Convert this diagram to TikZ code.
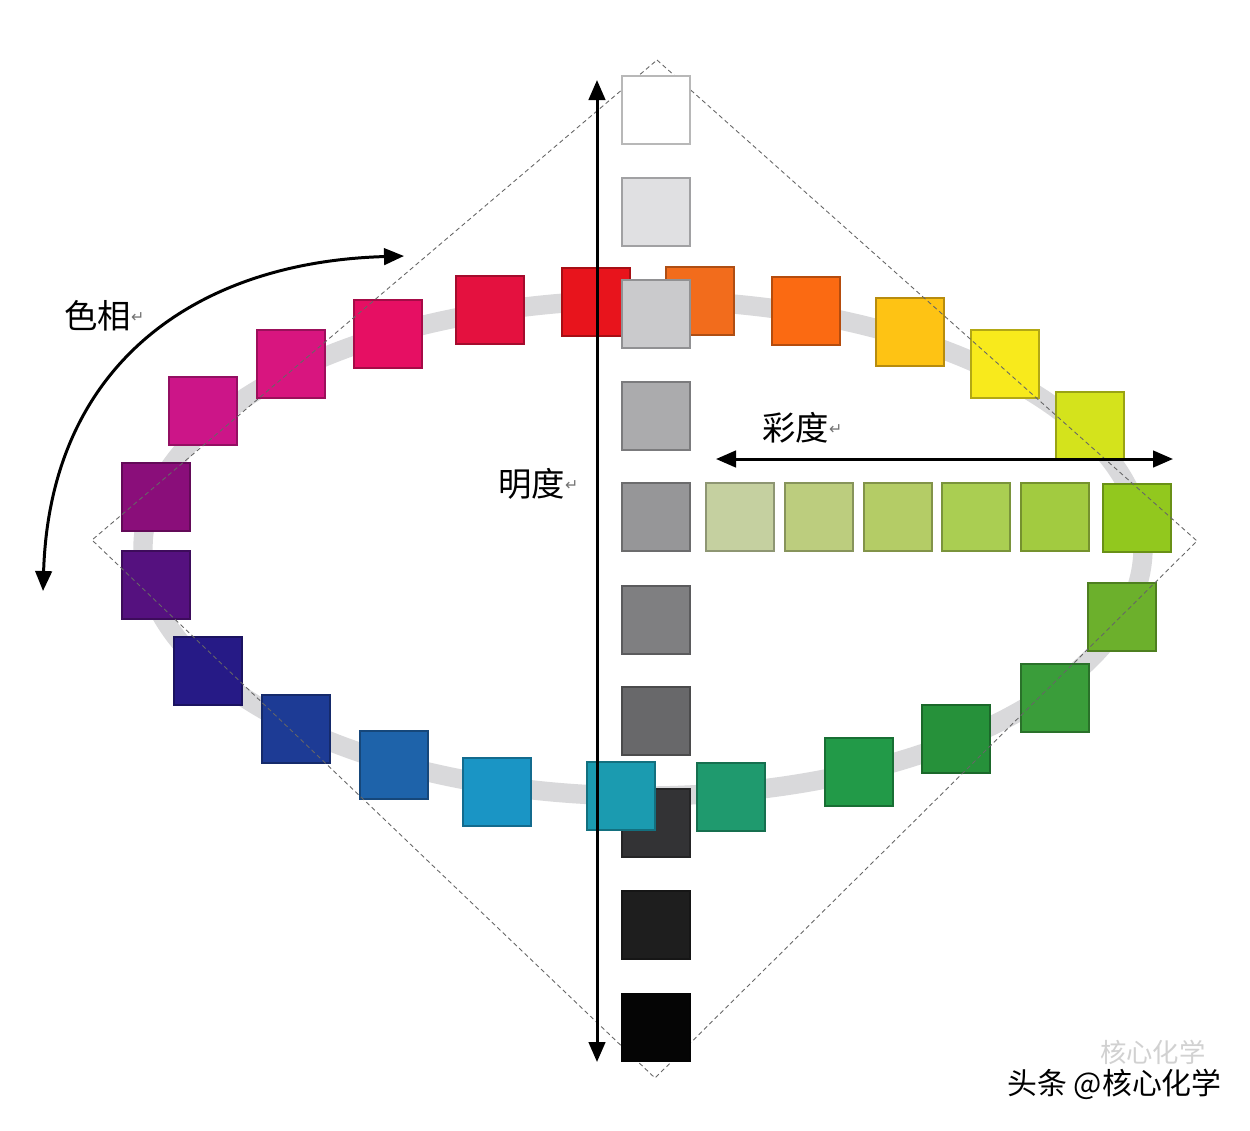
\documentclass[tikz,border=0pt]{standalone}
\usepackage{fontspec}
\setmainfont{Noto Sans CJK SC}
\newfontfamily\symfont{DejaVu Sans}
\usepackage{tikz}
\usetikzlibrary{arrows.meta, positioning}
% hue ring
\definecolor{hueA}{HTML}{E8141C}
\definecolor{hueB}{HTML}{F26C1C}
\definecolor{hueC}{HTML}{FB6A12}
\definecolor{hueD}{HTML}{FEC314}
\definecolor{hueE}{HTML}{F8EA1C}
\definecolor{hueF}{HTML}{D4E31C}
\definecolor{hueG}{HTML}{92C81E}
\definecolor{hueH}{HTML}{6CB02C}
\definecolor{hueI}{HTML}{3A9D3A}
\definecolor{hueJ}{HTML}{26913A}
\definecolor{hueK}{HTML}{229A48}
\definecolor{hueL}{HTML}{1F9A6E}
\definecolor{hueM}{HTML}{1B9BB0}
\definecolor{hueN}{HTML}{1A95C5}
\definecolor{hueO}{HTML}{1E63AA}
\definecolor{hueP}{HTML}{1D3B95}
\definecolor{hueQ}{HTML}{261A86}
\definecolor{hueR}{HTML}{55117F}
\definecolor{hueS}{HTML}{8A0E7A}
\definecolor{hueT}{HTML}{CC1588}
\definecolor{hueU}{HTML}{D8157F}
\definecolor{hueV}{HTML}{E60F63}
\definecolor{hueW}{HTML}{E4113F}
% value column
\definecolor{grayA}{HTML}{FFFFFF}
\definecolor{grayB}{HTML}{E0E0E2}
\definecolor{grayC}{HTML}{CACACC}
\definecolor{grayD}{HTML}{ABABAD}
\definecolor{grayE}{HTML}{969698}
\definecolor{grayF}{HTML}{7F7F81}
\definecolor{grayG}{HTML}{68686A}
\definecolor{grayH}{HTML}{333335}
\definecolor{grayI}{HTML}{1E1E1E}
\definecolor{grayJ}{HTML}{050505}
% chroma row
\definecolor{chromaA}{HTML}{C5D0A0}
\definecolor{chromaB}{HTML}{BCCD7E}
\definecolor{chromaC}{HTML}{B4CC66}
\definecolor{chromaD}{HTML}{AACE52}
\definecolor{chromaE}{HTML}{A2CB40}
\definecolor{ringgray}{HTML}{D9D9DB}
\newcommand{\retmark}{\raisebox{0.35ex}{\symfont\fontsize{9}{9}\selectfont\textcolor{black!55}{↵}}}

\begin{document}
\begin{tikzpicture}[x=0.02cm, y=-0.02cm,
    sq/.style={draw=#1!72!black, fill=#1, line width=0.6pt, minimum size=1.36cm, inner sep=0pt},
    axis/.style={line width=1.7pt, {Triangle[length=4mm, width=3.3mm]}-{Triangle[length=4mm, width=3.3mm]}},
    lab/.style={anchor=west, inner sep=0pt, font=\fontsize{19}{22}\selectfont}]
        \useasboundingbox (0,0) rectangle (1250,1130);
        \fill[white] (0,0) rectangle (1250,1130);

        % Ring behind the hue squares
        \draw[ringgray, line width=11pt] (643,548) ellipse [x radius=500, y radius=248];

        % Hue squares
        \node[sq=hueA] (hue1) at (596,302) {};
        \node[sq=hueB] (hue2) at (700,301) {};
        \node[sq=hueC] (hue3) at (806,311) {};
        \node[sq=hueD] (hue4) at (910,332) {};
        \node[sq=hueE] (hue5) at (1005,364) {};
        \node[sq=hueF] (hue6) at (1090,426) {};
        \node[sq=hueG] (hue7) at (1137,518) {};
        \node[sq=hueH] (hue8) at (1122,617) {};
        \node[sq=hueI] (hue9) at (1055,698) {};
        \node[sq=hueJ] (hue10) at (956,739) {};
        \node[sq=hueK] (hue11) at (859,772) {};
        \node[sq=hueL] (hue12) at (731,797) {};
        \node[sq=hueN] (hue14) at (497,792) {};
        \node[sq=hueO] (hue15) at (394,765) {};
        \node[sq=hueP] (hue16) at (296,729) {};
        \node[sq=hueQ] (hue17) at (208,671) {};
        \node[sq=hueR] (hue18) at (156,585) {};
        \node[sq=hueS] (hue19) at (156,497) {};
        \node[sq=hueT] (hue20) at (203,411) {};
        \node[sq=hueU] (hue21) at (291,364) {};
        \node[sq=hueV] (hue22) at (388,334) {};
        \node[sq=hueW] (hue23) at (490,310) {};

        % Chroma row
        \node[sq=chromaA] (chroma1) at (740,517) {};
        \node[sq=chromaB] (chroma2) at (819,517) {};
        \node[sq=chromaC] (chroma3) at (898,517) {};
        \node[sq=chromaD] (chroma4) at (976,517) {};
        \node[sq=chromaE] (chroma5) at (1055,517) {};

        % Dotted diamond
        \coordinate (dtop) at (657,60);
        \coordinate (dright) at (1197,541);
        \coordinate (dbot) at (655,1078);
        \coordinate (dleft) at (92,540);
        \draw[black!60, line width=0.5pt, dash pattern=on 2.5pt off 1.8pt] (dtop) -- (dright) -- (dbot) -- (dleft) -- cycle;

        % Value column
        \node[sq=grayA] (gray1) at (656,110) {};
        \node[sq=grayB] (gray2) at (656,212) {};
        \node[sq=grayC] (gray3) at (656,314) {};
        \node[sq=grayD] (gray4) at (656,416) {};
        \node[sq=grayE] (gray5) at (656,517) {};
        \node[sq=grayF] (gray6) at (656,620) {};
        \node[sq=grayG] (gray7) at (656,721) {};
        \node[sq=grayH] (gray8) at (656,823) {};
        \node[sq=grayI] (gray9) at (656,925) {};
        \node[sq=grayJ] (gray10) at (656,1027) {};

        \node[sq=hueM] (hue13) at (621,796) {};

        % Arrows
        \coordinate (vtop) at (597,80);
        \coordinate (vbot) at (597,1062);
        \coordinate (cleft) at (716,459);
        \coordinate (cright) at (1173,459);
        \coordinate (harc) at (43,591);
        \coordinate (hend) at (404,256);
        \draw[axis] (vtop) -- (vbot);
        \draw[axis] (cleft) -- (cright);
        \draw[axis] (harc) .. controls (50,365) and (195,262) .. (hend);

        % Labels
        \node[lab] (hlab) at (64,316) {色相\retmark};
        \node[lab] (vlab) at (498,484) {明度\retmark};
        \node[lab] (clab) at (762,428) {彩度\retmark};

        % Watermark
        \node[anchor=east, inner sep=0pt, text=black!18, font=\fontsize{15}{18}\selectfont] (wmark) at (1206,1052) {核心化学};
        \node[anchor=east, inner sep=0pt, font=\fontsize{17}{20}\selectfont] (credit) at (1222,1084) {头条 @核心化学};
    \end{tikzpicture}
\end{document}
